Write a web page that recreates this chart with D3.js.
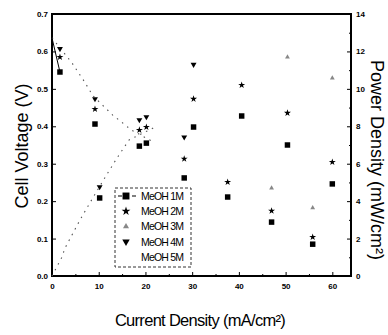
<!DOCTYPE html>
<html><head><meta charset="utf-8">
<script src="https://cdn.jsdelivr.net/npm/d3@7"></script>
<style>
html,body{margin:0;padding:0;background:#fff;}
svg{display:block;}
</style></head>
<body>
<svg id="c" width="388" height="335"></svg>
<script>
// ---- data ----
const seriesNames = ["MeOH 1M", "MeOH 2M", "MeOH 3M", "MeOH 4M", "MeOH 5M"];
const xTicks = [0, 10, 20, 30, 40, 50, 60];
const vTicks = [0, 0.1, 0.2, 0.3, 0.4, 0.5, 0.6, 0.7];
const pTicks = [0, 2, 4, 6, 8, 10, 12, 14];

// current density for voltage points and power points
const curV = [1.7, 9.2, 18.7, 28.3, 37.6, 47.0, 55.8];
const curP = [2.0, 10.2, 20.2, 30.3, 40.6, 50.4, 60.0];

const v1M = [0.545, 0.406, 0.347, 0.262, 0.211, 0.144, 0.085];
const p1M = [null, 4.17, 7.1, 7.96, 8.55, 7.0, 4.92];
const v2M = [0.585, 0.446, 0.390, 0.313, 0.251, 0.174, 0.104];
const p2M = [null, null, 7.96, 9.46, 10.2, 8.71, 6.09];
const v3M = [null, null, null, null, null, 0.235, 0.182];
const p3M = [null, null, null, null, null, 11.7, 10.58];
const v4M = [0.607, 0.473, 0.417, 0.371, null, null, null];
const p4M = [null, 4.76, 8.5, 11.3, null, null, null];

// MeOH 5M: drawn as dotted curves only
const cur5V = [0, 4.3, 5.4, 6.7, 8.8, 13.0, 17.0, 21.7];
const v5M  = [0.636, 0.569, 0.548, 0.524, 0.481, 0.43, 0.39, 0.358];
const cur5P = [0, 2.1, 2.8, 6.0, 8.8, 11.8, 13.9, 16.5, 22.1];
const p5M  = [0, 1.0, 1.5, 3.0, 4.2, 5.45, 6.3, 7.27, 7.96];

// 1M short connecting segment at open circuit
const cur1Line = [0, 1.7];
const v1Line = [0.636, 0.545];

// ---- chart ----
const svg = d3.select("#c");
const x = d3.scaleLinear([0, 64], [52, 351]);
const yV = d3.scaleLinear([0, 0.7], [276, 14]);
const yP = d3.scaleLinear([0, 14], [276, 14]);

const tickFont = "bold 8px 'Liberation Sans', Arial, sans-serif";

// axes
const gx = svg.append("g").attr("transform", "translate(0,276)")
  .call(d3.axisBottom(x).tickValues(xTicks).tickSize(-4).tickPadding(7).tickFormat(d3.format("d")));
const gxm = svg.append("g").attr("transform", "translate(0,276)")
  .call(d3.axisBottom(x).tickValues(d3.range(5, 64, 10)).tickSize(-2).tickFormat(""));
const gl = svg.append("g").attr("transform", "translate(52,0)")
  .call(d3.axisLeft(yV).tickValues(vTicks).tickSize(-4).tickPadding(4).tickFormat(d3.format(".1f")));
const gr = svg.append("g").attr("transform", "translate(351,0)")
  .call(d3.axisRight(yP).tickValues(pTicks).tickSize(-4).tickPadding(5).tickFormat(d3.format("d")));
const grm = svg.append("g").attr("transform", "translate(351,0)")
  .call(d3.axisRight(yP).tickValues(d3.range(1, 14, 2)).tickSize(-2).tickFormat(""));
[gx, gxm, gl, gr, grm].forEach(g => {
  g.select(".domain").remove();
  g.selectAll("line").attr("stroke", "#000").attr("stroke-width", 1);
  g.selectAll("text").style("font", tickFont).attr("fill", "#000");
});
// frame
svg.append("rect").attr("x", x(0)).attr("y", yV(0.7))
  .attr("width", x(64) - x(0)).attr("height", yV(0) - yV(0.7))
  .attr("fill", "none").attr("stroke", "#000").attr("stroke-width", 2);

// 5M dotted lines
const lineV = d3.line().x(d => x(d[0])).y(d => yV(d[1]));
const lineP = d3.line().x(d => x(d[0])).y(d => yP(d[1]));
svg.append("path").datum(d3.zip(cur5V, v5M)).attr("d", lineV)
  .attr("fill", "none").attr("stroke", "#555").attr("stroke-width", 1.1).attr("stroke-dasharray", "1.5,5");
svg.append("path").datum(d3.zip(cur5P, p5M)).attr("d", lineP)
  .attr("fill", "none").attr("stroke", "#555").attr("stroke-width", 1.1).attr("stroke-dasharray", "1.5,5");
svg.append("path").datum(d3.zip(cur1Line, v1Line)).attr("d", lineV)
  .attr("fill", "none").attr("stroke", "#000").attr("stroke-width", 1);

// markers
const styles = [
  {type: d3.symbolSquare, size: 30, fill: "#000", rot: 0},
  {type: d3.symbolStar, size: 15, fill: "#000", rot: 0},
  {type: d3.symbolTriangle, size: 10, fill: "#888", rot: 0},
  {type: d3.symbolTriangle, size: 15, fill: "#000", rot: 180},
];
const vSets = [v1M, v2M, v3M, v4M];
const pSets = [p1M, p2M, p3M, p4M];
function drawSet(vals, cur, ys, st) {
  const pts = d3.zip(cur, vals).filter(d => d[1] != null);
  svg.append("g").selectAll("path").data(pts).join("path")
    .attr("d", d3.symbol().type(st.type).size(st.size))
    .attr("transform", d => `translate(${x(d[0])},${ys(d[1])}) rotate(${st.rot})`)
    .attr("fill", st.fill);
}
vSets.forEach((s, i) => drawSet(s, curV, yV, styles[i]));
pSets.forEach((s, i) => drawSet(s, curP, yP, styles[i]));

// legend
const lg = svg.append("g");
lg.append("rect").attr("x", 115).attr("y", 188).attr("width", 76).attr("height", 79)
  .attr("fill", "#fff").attr("stroke", "#333").attr("stroke-width", 1).attr("stroke-dasharray", "3,2");
seriesNames.forEach((n, i) => {
  const yy = 196 + i * 15.2;
  if (i === 0) {
    lg.append("line").attr("x1", 118).attr("x2", 138).attr("y1", yy).attr("y2", yy)
      .attr("stroke", "#000").attr("stroke-width", 1.2).attr("stroke-dasharray", "4,3");
  }
  if (i < 4) {
    const st = styles[i];
    lg.append("path").attr("d", d3.symbol().type(st.type).size(st.size * 1.6))
      .attr("transform", `translate(126,${yy}) rotate(${st.rot})`).attr("fill", st.fill);
  }
  lg.append("text").attr("x", 141).attr("y", yy + 4).text(n)
    .style("font", "10.5px 'Liberation Sans', Arial, sans-serif")
    .attr("letter-spacing", "-0.8").attr("fill", "#000");
});

// axis titles
const titleFont = "18px 'Liberation Sans', Arial, sans-serif";
svg.append("text").attr("transform", "translate(28,146) rotate(-90)")
  .attr("text-anchor", "middle").style("font", titleFont).text("Cell Voltage (V)");
svg.append("text").attr("transform", "translate(371,160) rotate(90)")
  .attr("text-anchor", "middle").style("font", titleFont).text("Power Density (mW/cm²)");
svg.append("text").attr("x", 200).attr("y", 326).attr("text-anchor", "middle")
  .style("font", "16.5px 'Liberation Sans', Arial, sans-serif").attr("letter-spacing", "-0.7")
  .text("Current Density (mA/cm²)");
</script>
</body></html>
